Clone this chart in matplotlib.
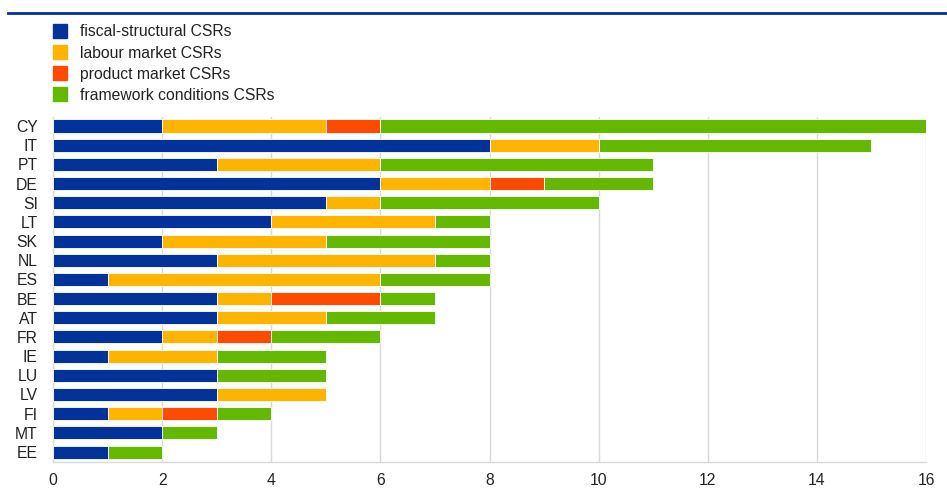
import matplotlib
matplotlib.use("Agg")
import matplotlib.pyplot as plt
from matplotlib.patches import Rectangle
from matplotlib.lines import Line2D
import numpy as np

plt.rcParams['font.family'] = ['Liberation Sans', 'DejaVu Sans']

countries = ["CY", "IT", "PT", "DE", "SI", "LT", "SK", "NL", "ES", "BE", "AT", "FR", "IE", "LU", "LV", "FI", "MT", "EE"]
fiscal =    [2, 8, 3, 6, 5, 4, 2, 3, 1, 3, 3, 2, 1, 3, 3, 1, 2, 1]
labour =    [3, 2, 3, 2, 1, 3, 3, 4, 5, 1, 2, 1, 2, 0, 2, 1, 0, 0]
product =   [1, 0, 0, 1, 0, 0, 0, 0, 0, 2, 0, 1, 0, 0, 0, 1, 0, 0]
framework = [10, 5, 5, 2, 4, 1, 3, 1, 2, 1, 2, 2, 2, 2, 0, 1, 1, 1]

series_names = ["fiscal-structural CSRs", "labour market CSRs", "product market CSRs", "framework conditions CSRs"]
colors = ["#003299", "#FFB400", "#FF4B00", "#65B800"]
xticks = [0, 2, 4, 6, 8, 10, 12, 14, 16]

fig = plt.figure(figsize=(9.47, 4.99), dpi=100)
ax = fig.add_axes([53/947, 1 - 462/499, (926-53)/947, (462-117)/499])

y = np.arange(len(countries))
left = np.zeros(len(countries))
for vals, col in zip([fiscal, labour, product, framework], colors):
    v = np.array(vals, dtype=float)
    ax.barh(y, v, left=left, height=0.68, color=col, edgecolor="white", linewidth=0.6, zorder=3)
    left += v

ax.set_xlim(0, 16)
ax.set_ylim(17.52, -0.47)
ax.set_yticks(y)
ax.set_yticklabels(countries)
ax.set_xticks(xticks)
ax.set_xticklabels([str(t) for t in xticks])
ax.tick_params(axis='both', length=0, labelsize=11.3, colors="#222222")
ax.tick_params(axis='x', pad=8)
ax.tick_params(axis='y', pad=11)
ax.grid(axis='x', color="#d9d9d9", linewidth=1, zorder=0)
for s in ["top", "right"]:
    ax.spines[s].set_visible(False)
for s in ["left", "bottom"]:
    ax.spines[s].set_color("#d9d9d9")
    ax.spines[s].set_linewidth(1)

# top rule
fig.add_artist(Line2D([8/947, 1.0], [1 - 13/499, 1 - 13/499], color="#003299", linewidth=2))

# legend
for i, (name, col) in enumerate(zip(series_names, colors)):
    yc = 31 + i * 21
    fig.add_artist(Rectangle((53/947, 1 - (yc + 7)/499), 14/947, 14/499, color=col, transform=fig.transFigure))
    fig.text(80/947, 1 - (yc + 1)/499, name, fontsize=11.3, va='center', ha='left', color="#222222")

fig.savefig("out.png", dpi=100)
